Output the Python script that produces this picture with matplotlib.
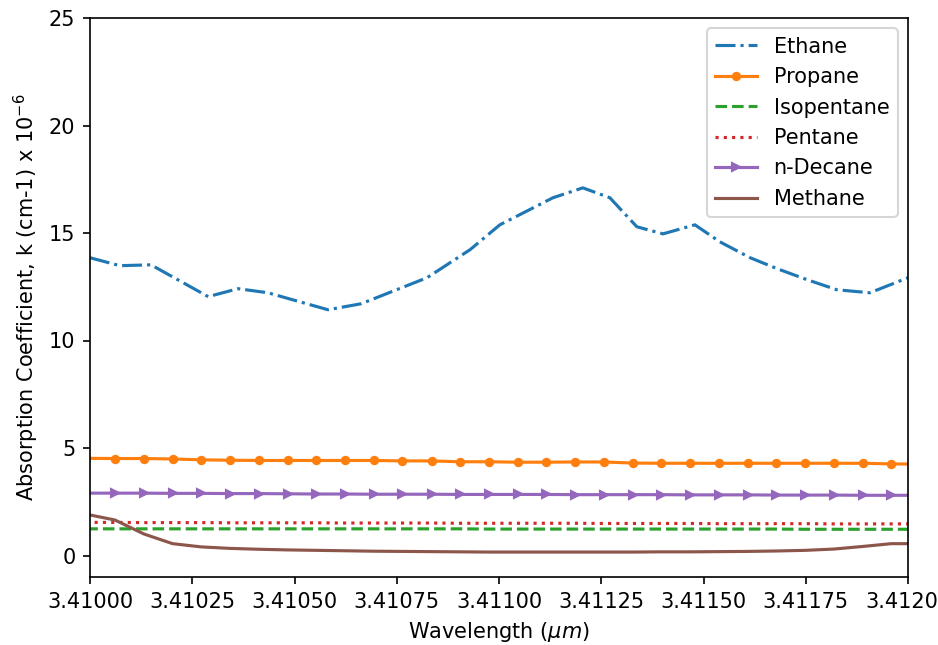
import matplotlib.pyplot as plt

# wavelength grid (um) shared by the flat spectra
wl = [3.409991, 3.410061, 3.410132, 3.410202, 3.410272, 3.410343, 3.410413,
      3.410483, 3.410553, 3.410624, 3.410694, 3.410764, 3.410835, 3.410905,
      3.410975, 3.411046, 3.411116, 3.411186, 3.411256, 3.411327, 3.411397,
      3.411467, 3.411538, 3.411608, 3.411678, 3.411749, 3.411819, 3.411889,
      3.411959, 3.412030]

propane = [4.52, 4.51, 4.51, 4.49, 4.45, 4.43, 4.42, 4.42, 4.42, 4.42,
           4.42, 4.40, 4.40, 4.36, 4.36, 4.34, 4.34, 4.35, 4.35, 4.30,
           4.29, 4.29, 4.29, 4.29, 4.29, 4.29, 4.29, 4.29, 4.26, 4.25]

isopentane = [1.24, 1.24, 1.24, 1.24, 1.24, 1.24, 1.24, 1.24, 1.24, 1.24,
              1.24, 1.24, 1.24, 1.24, 1.23, 1.23, 1.23, 1.23, 1.23, 1.23,
              1.23, 1.23, 1.23, 1.23, 1.23, 1.22, 1.22, 1.22, 1.22, 1.22]

pentane = [1.54, 1.54, 1.53, 1.53, 1.53, 1.52, 1.52, 1.52, 1.52, 1.51,
           1.51, 1.51, 1.51, 1.50, 1.50, 1.50, 1.50, 1.50, 1.49, 1.49,
           1.49, 1.49, 1.48, 1.48, 1.48, 1.48, 1.47, 1.47, 1.47, 1.47]

decane = [2.90, 2.90, 2.90, 2.89, 2.89, 2.88, 2.88, 2.87, 2.86, 2.86,
          2.85, 2.85, 2.85, 2.84, 2.84, 2.84, 2.84, 2.83, 2.83, 2.83,
          2.83, 2.82, 2.82, 2.82, 2.81, 2.81, 2.81, 2.80, 2.80, 2.80]

methane = [1.92, 1.65, 1.00, 0.55, 0.40, 0.33, 0.29, 0.26, 0.24, 0.22,
           0.20, 0.19, 0.18, 0.17, 0.16, 0.16, 0.16, 0.16, 0.16, 0.16,
           0.17, 0.17, 0.18, 0.19, 0.21, 0.24, 0.30, 0.42, 0.55, 0.55]

# ethane has its own sampling
wl_ethane = [3.410000, 3.410073, 3.410149, 3.410289, 3.410362, 3.410435,
             3.410513, 3.410582, 3.410663, 3.410824, 3.410929, 3.411002,
             3.411132, 3.411205, 3.411271, 3.411337, 3.411401, 3.411479,
             3.411540, 3.411614, 3.411680, 3.411753, 3.411826, 3.411907,
             3.412000]
ethane = [13.85, 13.48, 13.52, 12.04, 12.41, 12.22, 11.80, 11.43, 11.71,
          12.92, 14.22, 15.38, 16.64, 17.10, 16.64, 15.29, 14.96, 15.38,
          14.59, 13.85, 13.34, 12.83, 12.36, 12.22, 12.92]

fig = plt.figure(figsize=(938 / 150, 645 / 150), dpi=150)
ax = fig.add_axes([90 / 938, 1 - 577 / 645, 818 / 938, 559 / 645])

ax.plot(wl_ethane, ethane, linestyle="-.", label="Ethane")
ax.plot(wl, propane, marker="o", markersize=3.5, label="Propane")
ax.plot(wl, isopentane, linestyle="--", label="Isopentane")
ax.plot(wl, pentane, linestyle=":", label="Pentane")
ax.plot(wl, decane, marker=">", markersize=4, label="n-Decane")
ax.plot(wl, methane, label="Methane")

ax.set_xlim(3.41, 3.412)
ax.set_ylim(-1, 25)
ax.ticklabel_format(axis="x", useOffset=False)
ax.set_xlabel(r"Wavelength ($\mu m$)")
ax.set_ylabel(r"Absorption Coefficient, k (cm-1) x 10$^{-6}$")
ax.legend(loc="upper right")

fig.savefig("out.png", dpi=150)
